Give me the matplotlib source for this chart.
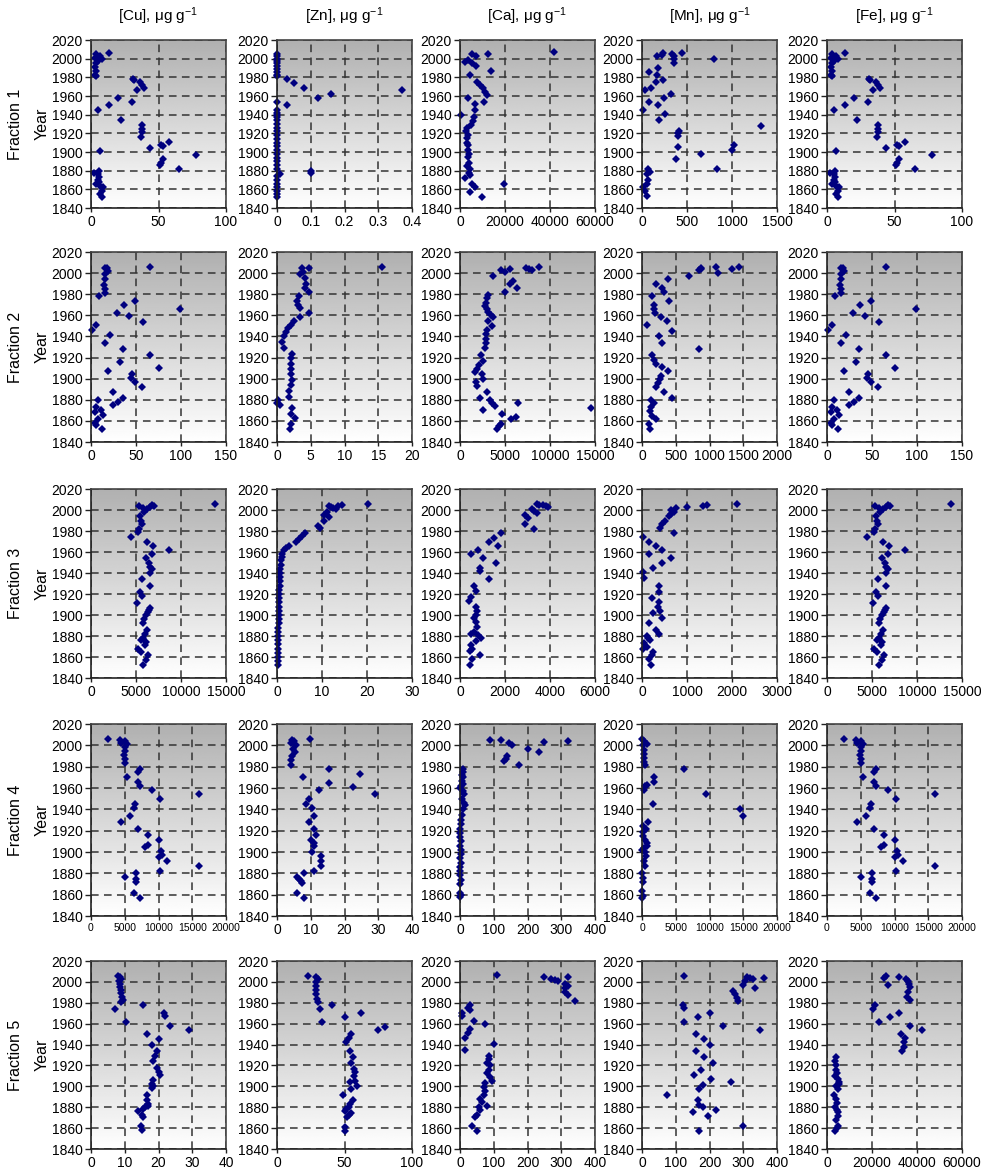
"""
Metal concentrations through the sediment record, five extraction fractions
Layout: 5 rows (fractions) x 5 cols (elements)
Output: out.png
"""

import numpy as np
import matplotlib.pyplot as plt
import matplotlib.ticker as ticker

plt.rcParams["font.family"] = ["Liberation Sans", "DejaVu Sans"]
plt.rcParams["mathtext.fontset"] = "custom"
plt.rcParams["mathtext.rm"] = "Liberation Sans"
plt.rcParams["mathtext.it"] = "Liberation Sans"

ELEMENTS  = ["Cu", "Zn", "Ca", "Mn", "Fe"]
FRACTIONS = ["Fraction 1", "Fraction 2", "Fraction 3", "Fraction 4", "Fraction 5"]
MARKER_C  = "#00007f"

# x-axis ranges per fraction (rows) and element (cols)
XMAX  = [[100, 0.4, 60000, 1500, 100],
         [150, 20, 15000, 2000, 150],
         [15000, 30, 6000, 3000, 15000],
         [20000, 40, 400, 20000, 20000],
         [40, 100, 400, 400, 60000]]
XSTEP = [[50, 0.1, 20000, 500, 50],
         [50, 5, 5000, 500, 50],
         [5000, 10, 2000, 1000, 5000],
         [5000, 10, 100, 5000, 5000],
         [10, 50, 100, 100, 20000]]

# ── Fraction 1 (concentration, year) ──────────────────────────────────────────
CU_F1 = [(4, 2005), (7, 2003), (3, 2001), (8, 2000), (5, 1998), (4, 1995), (3, 1991),
         (4, 1987), (3, 1983), (4, 1981), (13, 2006), (31, 1978), (32, 1977), (36, 1975),
         (38, 1972), (39, 1969), (34, 1966), (20, 1958), (30, 1954), (13, 1950), (5, 1945),
         (22, 1934), (38, 1929), (38, 1925), (38, 1921), (37, 1916), (44, 1904), (52, 1907),
         (53, 1906), (58, 1911), (78, 1897), (7, 1901), (53, 1892), (52, 1888), (51, 1886),
         (65, 1882), (2, 1878), (6, 1880), (5, 1876), (6, 1873), (5, 1870), (4, 1866),
         (7, 1864), (9, 1862), (8, 1858), (7, 1855), (8, 1852), (6, 1868)]
ZN_F1 = [(0, 2005), (0, 2003), (0, 2000), (0, 1998), (0, 1995), (0, 1992), (0, 1989),
         (0, 1986), (0, 1983), (0, 1981), (0.03, 1978), (0.05, 1974), (0.08, 1969),
         (0.12, 1958), (0.16, 1962), (0.37, 1966), (0.03, 1950), (0, 1954), (0, 1945),
         (0, 1942), (0, 1940), (0, 1937), (0, 1934), (0, 1930), (0, 1926), (0, 1922),
         (0, 1918), (0, 1914), (0, 1910), (0, 1906), (0, 1902), (0, 1898), (0, 1894),
         (0, 1890), (0, 1886), (0, 1882), (0.1, 1880), (0.1, 1878), (0.01, 1876),
         (0, 1874), (0, 1870), (0, 1866), (0, 1862), (0, 1858), (0, 1855), (0, 1852)]
CA_F1 = [(5400, 2005), (6900, 2003), (3400, 1999), (2300, 1996), (5400, 1995), (6900, 1992),
         (12600, 2005), (13800, 1987), (4300, 1982), (7700, 1975), (9000, 1972),
         (10000, 1969), (11200, 1964), (12000, 1961), (10800, 1954), (3400, 1958),
         (6500, 1951), (6500, 1945), (5800, 1933), (5000, 1929), (500, 1940), (41800, 2007),
         (2800, 1922), (3100, 1915), (3400, 1908), (3400, 1902), (3400, 1895), (3800, 1888),
         (4300, 1882), (2300, 1872), (4600, 1875), (5400, 1866), (4600, 1857), (6500, 1862),
         (9700, 1852), (19500, 1866), (3000, 1910), (3500, 1918), (3200, 1926), (3800, 1898),
         (3300, 1885), (4000, 1878), (6000, 1937)]
MN_F1 = [(164, 2003), (222, 2004), (233, 2006), (330, 2005), (360, 2003), (440, 2006),
         (350, 2000), (355, 1995), (795, 2000), (183, 1990), (80, 1986), (164, 1983),
         (160, 1975), (233, 1977), (97, 1969), (31, 1966), (325, 1962), (240, 1958),
         (80, 1954), (183, 1950), (10, 1945), (260, 1941), (190, 1934), (412, 1923),
         (400, 1920), (400, 1917), (404, 1905), (374, 1892), (650, 1898), (997, 1902),
         (1024, 1907), (832, 1882), (1320, 1928), (69, 1882), (88, 1879), (50, 1876),
         (69, 1870), (50, 1866), (10, 1863), (38, 1858), (57, 1853)]
FE_F1 = CU_F1

# ── Fraction 2 ────────────────────────────────────────────────────────────────
CU_F2 = [(15, 2005), (18, 2005), (19, 2002), (16, 1999), (16, 1994), (14, 1989), (16, 1985),
         (15, 1981), (9, 1978), (65, 2006), (99, 1966), (49, 1974), (37, 1970), (29, 1962),
         (42, 1959), (58, 1954), (6, 1951), (1, 1946), (21, 1941), (15, 1934), (35, 1928),
         (32, 1916), (65, 1922), (75, 1910), (19, 1907), (46, 1904), (44, 1901), (49, 1897),
         (57, 1892), (24, 1887), (35, 1882), (30, 1878), (24, 1875), (8, 1880), (6, 1873),
         (11, 1870), (13, 1866), (4, 1868), (8, 1862), (4, 1858), (12, 1852), (6, 1856)]
ZN_F2 = [(15.6, 2006), (3.7, 2005), (4.7, 2005), (3.9, 2001), (3.4, 1999), (4.1, 1995),
         (4.3, 1990), (4.2, 1986), (4.8, 1982), (3.2, 1978), (2.95, 1974), (3.1, 1970),
         (3.4, 1967), (4.7, 1962), (3.4, 1958), (2.5, 1955), (2.0, 1951), (1.6, 1948),
         (1.3, 1944), (1.1, 1940), (0.7, 1935), (1.1, 1929), (2.2, 1923), (2.1, 1920),
         (2.0, 1914), (2.0, 1909), (2.1, 1904), (2.2, 1899), (2.0, 1894), (1.8, 1888),
         (1.8, 1883), (0.1, 1880), (0.05, 1877), (0.5, 1875), (2.2, 1872), (2.1, 1867),
         (2.6, 1863), (2.0, 1857), (1.9, 1852)]
CA_F2 = [(7300, 2005), (7700, 2004), (8000, 2003), (8800, 2006), (4500, 2003), (5000, 2001),
         (5600, 2004), (3700, 1997), (5900, 1993), (5500, 1990), (6300, 1986), (5000, 1982),
         (3100, 1979), (3000, 1976), (2900, 1972), (2800, 1969), (3000, 1966), (3100, 1963),
         (3400, 1960), (3700, 1958), (3100, 1955), (3600, 1950), (3000, 1946), (2900, 1942),
         (2900, 1938), (2900, 1934), (2800, 1929), (2300, 1922), (2600, 1917), (2100, 1913),
         (1900, 1909), (1700, 1906), (2400, 1904), (2500, 1900), (1800, 1897), (1900, 1893),
         (3000, 1887), (2200, 1882), (3300, 1880), (3600, 1877), (3900, 1874), (2500, 1870),
         (4700, 1867), (6400, 1877), (5700, 1862), (6200, 1864), (4500, 1857), (4300, 1855),
         (4100, 1852), (14500, 1872)]
MN_F2 = [(700, 1997), (850, 2003), (870, 2005), (880, 2004), (1100, 2006), (1120, 2000),
         (1340, 2004), (1430, 2006), (390, 1994), (210, 1990), (300, 1986), (320, 1982),
         (400, 1974), (150, 1978), (180, 1970), (180, 1966), (190, 1962), (280, 1958),
         (370, 1955), (80, 1951), (440, 1945), (250, 1940), (300, 1934), (850, 1928),
         (150, 1922), (180, 1918), (300, 1911), (380, 1907), (280, 1903), (260, 1900),
         (230, 1896), (210, 1892), (330, 1887), (450, 1882), (130, 1880), (180, 1877),
         (140, 1873), (120, 1869), (150, 1865), (200, 1862), (110, 1857), (120, 1852),
         (200, 1914)]
FE_F2 = CU_F2

# ── Fraction 3 ────────────────────────────────────────────────────────────────
CU_F3 = [(13800, 2006), (5300, 2004), (5800, 2002), (6500, 2003), (6800, 2005), (7000, 2004),
         (6200, 2001), (5900, 1998), (5400, 1994), (5500, 1990), (5700, 1987), (5300, 1982),
         (5200, 1979), (4400, 1974), (6200, 1970), (6900, 1966), (6800, 1958), (8700, 1962),
         (6100, 1954), (6400, 1950), (6600, 1946), (6800, 1944), (6500, 1940), (5700, 1934),
         (6600, 1928), (5400, 1922), (5700, 1918), (5100, 1911), (6500, 1907), (6300, 1903),
         (6100, 1900), (5900, 1896), (5800, 1892), (6200, 1886), (6000, 1882), (5800, 1878),
         (5500, 1876), (6100, 1874), (6000, 1871), (5200, 1868), (5500, 1865), (6300, 1862),
         (6100, 1857), (5800, 1852), (6400, 1905)]
ZN_F3 = [(20.3, 2006), (14.5, 2005), (13.5, 2004), (12, 2003), (11.5, 2004), (13, 2001),
         (12.5, 2002), (11, 1998), (10.5, 1995), (11.5, 1993), (10.5, 1990), (9, 1985),
         (9.5, 1983), (6.3, 1978), (5.5, 1975), (4.8, 1972), (4.2, 1970), (2.6, 1966),
         (2.0, 1964), (1.5, 1962), (1.2, 1958), (1.0, 1955), (0.9, 1952), (0.8, 1948),
         (0.7, 1944), (0.6, 1940), (0.6, 1936), (0.6, 1932), (0.6, 1928), (0.5, 1924),
         (0.5, 1920), (0.5, 1916), (0.5, 1912), (0.5, 1908), (0.5, 1904), (0.4, 1900),
         (0.4, 1896), (0.4, 1892), (0.3, 1888), (0.3, 1884), (0.3, 1880), (0.3, 1876),
         (0.2, 1872), (0.2, 1868), (0.2, 1864), (0.2, 1860), (0.2, 1856), (0.3, 1852)]
CA_F3 = [(3400, 2006), (3500, 2005), (3700, 2005), (3800, 2004), (3900, 2003), (3200, 2001),
         (3300, 1999), (3400, 1997), (2900, 1995), (3000, 1992), (2900, 1987), (3300, 1982),
         (1800, 1978), (1500, 1973), (1300, 1970), (1700, 1966), (800, 1962), (500, 1958),
         (1000, 1954), (1600, 1950), (900, 1945), (900, 1942), (1300, 1934), (600, 1928),
         (700, 1923), (400, 1913), (500, 1917), (700, 1908), (750, 1904), (700, 1900),
         (600, 1897), (700, 1893), (750, 1889), (600, 1884), (500, 1882), (800, 1881),
         (950, 1878), (700, 1875), (500, 1871), (450, 1866), (550, 1858), (450, 1852),
         (900, 1862), (550, 1868)]
MN_F3 = [(2100, 2006), (1450, 2005), (1350, 2004), (1000, 2003), (750, 2002), (650, 2000),
         (700, 1998), (650, 1996), (600, 1994), (500, 1990), (450, 1987), (400, 1983),
         (700, 1978), (30, 1974), (150, 1970), (300, 1966), (450, 1962), (150, 1958),
         (650, 1954), (450, 1950), (250, 1945), (30, 1941), (40, 1935), (380, 1928),
         (380, 1922), (230, 1916), (380, 1912), (350, 1908), (400, 1904), (450, 1897),
         (250, 1902), (150, 1892), (300, 1886), (380, 1882), (100, 1880), (130, 1878),
         (170, 1876), (50, 1873), (100, 1870), (20, 1868), (250, 1865), (230, 1862),
         (150, 1858), (200, 1852)]
FE_F3 = CU_F3

# ── Fraction 4 ────────────────────────────────────────────────────────────────
CU_F4 = [(2500, 2006), (4300, 2005), (5000, 2004), (4500, 2002), (5300, 2001), (5100, 1998),
         (5100, 1995), (4900, 1991), (5000, 1987), (5000, 1983), (7200, 1978), (7000, 1975),
         (5300, 1970), (7000, 1966), (7300, 1962), (9000, 1958), (10200, 1950), (16000, 1954),
         (6500, 1945), (6300, 1941), (5800, 1934), (4400, 1928), (7000, 1922), (8400, 1916),
         (8000, 1905), (8400, 1907), (10000, 1911), (10300, 1901), (10500, 1897),
         (10100, 1895), (11200, 1892), (16000, 1887), (10200, 1882), (6700, 1880),
         (6600, 1875), (6700, 1872), (5000, 1877), (6400, 1862), (7300, 1857)]
ZN_F4 = [(4.5, 2005), (5, 2004), (4, 2002), (5.5, 2000), (4.8, 1997), (5.2, 1994), (4.5, 1990),
         (4.2, 1986), (4, 1982), (9.8, 2006), (15.5, 1978), (24.5, 1973), (15.5, 1965),
         (7.7, 1970), (12.5, 1958), (22.5, 1961), (29, 1954), (9.5, 1950), (8.5, 1945),
         (10.5, 1941), (11, 1934), (9.5, 1928), (11, 1922), (11.5, 1916), (10, 1911),
         (11, 1908), (11, 1906), (10.3, 1900), (13, 1896), (13, 1892), (13, 1887), (11, 1882),
         (8, 1880), (6, 1877), (6.5, 1875), (7, 1873), (7.5, 1871), (6, 1862), (8, 1857)]
CA_F4 = [(90, 2005), (120, 2005), (145, 2002), (155, 2000), (250, 2003), (320, 2004),
         (200, 1997), (235, 1994), (130, 1985), (140, 1990), (135, 1987), (175, 1982),
         (10, 1978), (8, 1975), (6, 1972), (10, 1970), (5, 1967), (8, 1964), (3, 1962),
         (0, 1960), (10, 1957), (12, 1954), (6, 1950), (12, 1946), (15, 1944), (8, 1940),
         (5, 1935), (3, 1930), (2, 1926), (1, 1922), (0, 1918), (1, 1914), (2, 1910),
         (1, 1906), (3, 1902), (2, 1898), (1, 1894), (2, 1890), (1, 1886), (0, 1882),
         (1, 1878), (2, 1874), (0, 1870), (1, 1862), (0, 1858), (2, 1860)]
MN_F4 = [(0, 2006), (300, 2004), (700, 2001), (200, 2000), (300, 1996), (250, 1992),
         (350, 1988), (250, 1984), (400, 1982), (6200, 1978), (1800, 1970), (1800, 1966),
         (500, 1962), (700, 1963), (300, 1958), (9500, 1954), (1700, 1945), (14500, 1940),
         (15000, 1934), (900, 1928), (600, 1922), (200, 1919), (100, 1915), (500, 1911),
         (700, 1906), (300, 1904), (0, 1902), (500, 1900), (600, 1896), (300, 1892),
         (500, 1887), (0, 1880), (100, 1876), (200, 1872), (0, 1863), (100, 1859), (0, 1857),
         (700, 1908), (200, 1924)]
FE_F4 = CU_F4

# ── Fraction 5 ────────────────────────────────────────────────────────────────
CU_F5 = [(8, 2006), (8.5, 2005), (9, 2003), (8.3, 2001), (8.5, 1998), (8.7, 1995), (8.9, 1992),
         (9, 1989), (9.2, 1986), (9.5, 1983), (9, 1981), (7, 1974), (15.5, 1978), (10.5, 1962),
         (21.5, 1970), (21.8, 1967), (23.5, 1958), (29, 1954), (16.5, 1950), (20, 1945),
         (18, 1940), (19.5, 1934), (19, 1929), (18.5, 1924), (19.5, 1918), (20, 1914),
         (20.5, 1911), (18.5, 1906), (18, 1902), (18, 1898), (16.5, 1892), (16.5, 1887),
         (17, 1883), (16, 1880), (15.5, 1878), (14, 1876), (15, 1873), (15.5, 1871),
         (14.8, 1862), (15, 1858), (18.5, 1900), (17, 1881)]
ZN_F5 = [(23, 2006), (29, 2005), (30, 2003), (29, 2000), (29, 1996), (29, 1992), (29, 1988),
         (29.5, 1984), (30, 1981), (41, 1978), (32, 1974), (33, 1962), (62, 1970), (50, 1966),
         (75, 1954), (80, 1957), (55, 1950), (53, 1946), (51, 1942), (54, 1934), (56, 1928),
         (55, 1922), (57, 1917), (58, 1914), (57, 1910), (58, 1905), (59, 1900), (54, 1904),
         (55, 1897), (49, 1892), (56, 1887), (54, 1883), (53, 1880), (51, 1878), (50, 1876),
         (53, 1873), (55, 1874), (52, 1871), (50, 1861), (50, 1857)]
CA_F5 = [(110, 2007), (250, 2005), (270, 2003), (280, 2002), (290, 2001), (320, 2005),
         (310, 1998), (320, 1996), (310, 1994), (310, 1990), (320, 1987), (340, 1982),
         (5, 1970), (5, 1967), (30, 1978), (25, 1975), (30, 1973), (40, 1963), (75, 1960),
         (30, 1955), (25, 1951), (15, 1946), (15, 1935), (100, 1941), (85, 1929), (85, 1926),
         (80, 1922), (90, 1920), (85, 1916), (80, 1913), (90, 1909), (95, 1905), (75, 1903),
         (70, 1899), (75, 1896), (70, 1892), (60, 1888), (65, 1885), (55, 1880), (60, 1877),
         (50, 1873), (45, 1871), (35, 1862), (50, 1857), (80, 1881)]
MN_F5 = [(125, 2006), (310, 2005), (320, 2004), (330, 2003), (300, 1997), (305, 2001),
         (360, 2004), (335, 1994), (270, 1991), (275, 1988), (280, 1985), (285, 1982),
         (120, 1978), (125, 1975), (125, 1962), (200, 1970), (165, 1966), (240, 1958),
         (350, 1954), (160, 1950), (185, 1945), (200, 1940), (160, 1934), (185, 1928),
         (210, 1922), (175, 1916), (155, 1911), (205, 1907), (265, 1904), (180, 1901),
         (170, 1897), (75, 1892), (165, 1887), (170, 1882), (180, 1880), (150, 1875),
         (220, 1877), (195, 1872), (170, 1857), (300, 1862)]
FE_F5 = [(26000, 2006), (25500, 2004), (32000, 2005), (27000, 1997), (35000, 2003),
         (36000, 2001), (36500, 1998), (37000, 1995), (36000, 1990), (35500, 1986),
         (37000, 1983), (21500, 1978), (20500, 1974), (23000, 1962), (28000, 1966),
         (32000, 1970), (37000, 1958), (33000, 1950), (34500, 1946), (34000, 1942),
         (34000, 1938), (33500, 1934), (42000, 1954), (4000, 1928), (3500, 1924),
         (4200, 1920), (3800, 1916), (4500, 1913), (3500, 1910), (5000, 1907), (5500, 1904),
         (4200, 1900), (5000, 1897), (3000, 1892), (4000, 1888), (4500, 1884), (3500, 1880),
         (4500, 1877), (4800, 1872), (4200, 1868), (5000, 1862), (4500, 1860), (3500, 1857),
         (5000, 1875), (5200, 1902)]

PANELS = [[CU_F1, ZN_F1, CA_F1, MN_F1, FE_F1],
          [CU_F2, ZN_F2, CA_F2, MN_F2, FE_F2],
          [CU_F3, ZN_F3, CA_F3, MN_F3, FE_F3],
          [CU_F4, ZN_F4, CA_F4, MN_F4, FE_F4],
          [CU_F5, ZN_F5, CA_F5, MN_F5, FE_F5]]

# ── Layout (pixel boxes on a 981 x 1171 canvas) ───────────────────────────────
W, H = 981, 1171
COL_LEFT = [91, 277, 460, 642, 827]
COL_W    = 135
ROW_BOX  = [(40, 208), (252, 442), (489, 678), (724, 916), (961, 1149)]

fig = plt.figure(figsize=(W / 100, H / 100), dpi=100, facecolor="white")
grad = np.linspace(1.0, 0.69, 256).reshape(-1, 1)

for r in range(5):
    top, bot = ROW_BOX[r]
    for c in range(5):
        ax = fig.add_axes([COL_LEFT[c] / W, 1 - bot / H, COL_W / W, (bot - top) / H])
        ax.imshow(grad, extent=[0, 1, 0, 1], transform=ax.transAxes, origin="lower",
                  aspect="auto", cmap="gray", vmin=0, vmax=1, zorder=0)

        pts = PANELS[r][c]
        conc = [p[0] for p in pts]
        year = [p[1] for p in pts]
        ax.plot(conc, year, linestyle="none", marker="D", markersize=4.4,
                color=MARKER_C, markeredgewidth=0, zorder=3, clip_on=False)

        ax.set_xlim(0, XMAX[r][c])
        ax.set_ylim(1840, 2020)
        ax.xaxis.set_major_locator(ticker.MultipleLocator(XSTEP[r][c]))
        ax.yaxis.set_major_locator(ticker.MultipleLocator(20))
        ax.xaxis.set_major_formatter(ticker.FormatStrFormatter("%g"))

        ax.grid(True, color="#333333", linestyle=(0, (5, 3.5)), linewidth=1.1, zorder=1)
        ax.set_axisbelow(False)
        for side, sp in ax.spines.items():
            sp.set_color("#222222" if side in ("left", "bottom") else "#444444")
            sp.set_linewidth(1.2)
            sp.set_zorder(4)

        small = XMAX[r][c] >= 20000 and r == 3
        ax.tick_params(direction="out", length=4, width=1, color="#222222",
                       labelsize=10, pad=2)
        ax.tick_params(axis="x", length=3, labelsize=7.5 if small else 10, pad=2)

        if r == 0:
            ax.set_title(f"[{ELEMENTS[c]}], μg g$^{{-1}}$", fontsize=11, pad=14)

    ymid = 1 - (top + bot) / 2 / H
    fig.text(15 / W, ymid, FRACTIONS[r], rotation=90, ha="center", va="center",
             fontsize=11.5)
    fig.text(42 / W, ymid, "Year", rotation=90, ha="center", va="center",
             fontsize=11.5)

fig.savefig("out.png", dpi=100, facecolor="white")
plt.close(fig)
